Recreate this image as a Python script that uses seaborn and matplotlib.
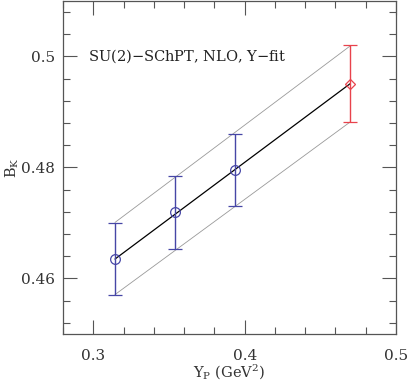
import matplotlib
matplotlib.use("Agg")
import matplotlib.pyplot as plt
import seaborn as sns
import pandas as pd
from matplotlib.ticker import MultipleLocator

# data
yp_data = [0.3143, 0.3539, 0.3939]
bk_data = [0.4635, 0.4719, 0.4795]
bk_err = [0.0065, 0.0065, 0.0065]

yp_phys = [0.4697]
bk_phys = [0.4951]
bk_phys_err = [0.0069]

fit_x = [0.3143, 0.4697]
fit_mid = [0.4635, 0.4951]
fit_hi = [0.4701, 0.5019]
fit_lo = [0.4571, 0.4882]

blue = "#4646a6"
red = "#e8424c"

sns.set_style("ticks")
plt.rcParams['font.family'] = ['DejaVu Serif']
plt.rcParams['mathtext.fontset'] = 'dejavuserif'

fig = plt.figure(figsize=(4.07, 3.81), dpi=100)
ax = fig.add_axes([0.155, 0.1234, 0.818, 0.874])

df_fit = pd.DataFrame({"x": fit_x, "mid": fit_mid, "hi": fit_hi, "lo": fit_lo})
sns.lineplot(data=df_fit, x="x", y="mid", ax=ax, color="black", lw=0.9)
sns.lineplot(data=df_fit, x="x", y="hi", ax=ax, color="#999999", lw=0.6)
sns.lineplot(data=df_fit, x="x", y="lo", ax=ax, color="#999999", lw=0.6)

ax.errorbar(yp_data, bk_data, yerr=bk_err, fmt="o", mfc="none", mec=blue,
            ecolor=blue, ms=7, mew=0.9, elinewidth=1.0, capsize=5, capthick=1.0)
ax.errorbar(yp_phys, bk_phys, yerr=bk_phys_err, fmt="D", mfc="none", mec=red,
            ecolor=red, ms=5.5, mew=0.9, elinewidth=1.0, capsize=5, capthick=1.0)

ax.set_xlim(0.28, 0.5)
ax.set_ylim(0.45, 0.51)
ax.xaxis.set_major_locator(MultipleLocator(0.1))
ax.xaxis.set_minor_locator(MultipleLocator(0.02))
ax.yaxis.set_major_locator(MultipleLocator(0.02))
ax.yaxis.set_minor_locator(MultipleLocator(0.004))
ax.set_xticks([0.3, 0.4, 0.5])
ax.set_xticklabels(["0.3", "0.4", "0.5"])
ax.set_yticks([0.46, 0.48, 0.5])
ax.set_yticklabels(["0.46", "0.48", "0.5"])
ax.tick_params(which="both", direction="in", top=True, right=True,
               color="#555555", labelsize=11, labelcolor="#333333")
ax.tick_params(axis="x", which="major", pad=11)
ax.tick_params(axis="y", which="major", pad=6)
ax.tick_params(which="major", length=10, width=0.8)
ax.tick_params(which="minor", length=5, width=0.8)
for s in ax.spines.values():
    s.set_color("#555555")
    s.set_linewidth(0.9)

ax.text(0.2965, 0.5, "SU(2)$-$SChPT, NLO, Y$-$fit", fontsize=10.5,
        va="center", ha="left", color="#222222")
ax.set_xlabel(r"Y$_\mathrm{P}$ (GeV$^2$)", fontsize=10.5, color="#333333", labelpad=0)
ax.set_ylabel(r"B$_\mathrm{K}$", fontsize=10.5, color="#333333", va="center")
ax.yaxis.set_label_coords(-0.153, 0.5)

fig.savefig("out.png", dpi=100)
